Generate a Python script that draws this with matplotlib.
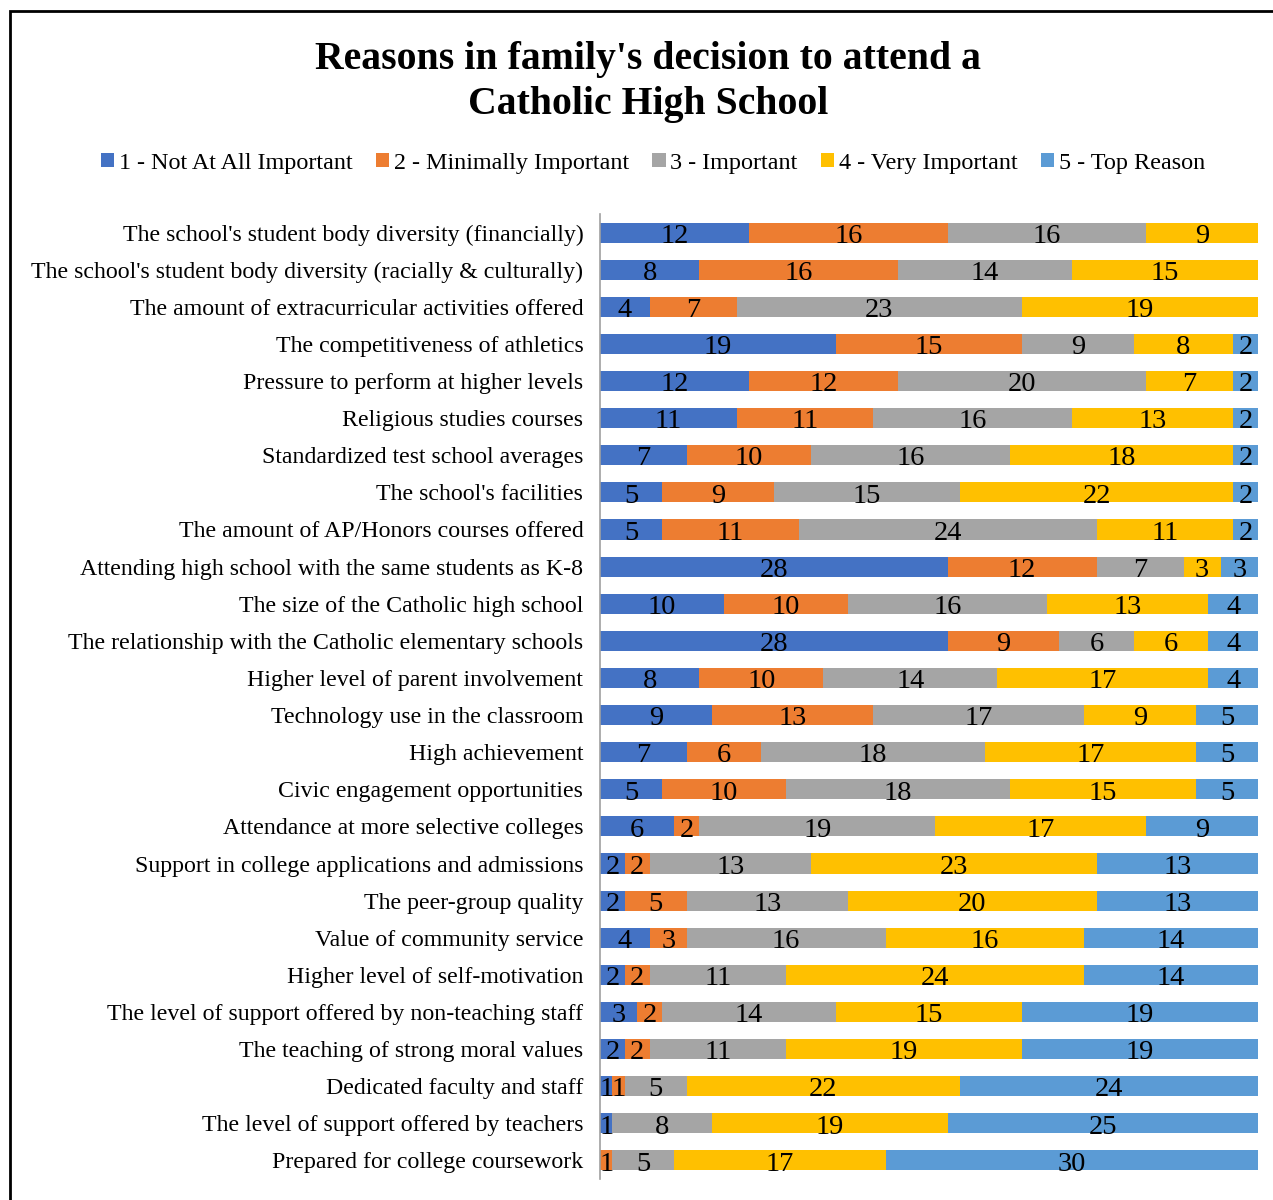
import matplotlib.pyplot as plt
from matplotlib.patches import Rectangle
import numpy as np

plt.rcParams['font.family'] = ['Liberation Serif', 'DejaVu Serif']

# categories, top to bottom
categories = [
    "The school's student body diversity (financially)",
    "The school's student body diversity (racially & culturally)",
    "The amount of extracurricular activities offered",
    "The competitiveness of athletics",
    "Pressure to perform at higher levels",
    "Religious studies courses",
    "Standardized test school averages",
    "The school's facilities",
    "The amount of AP/Honors courses offered",
    "Attending high school with the same students as K-8",
    "The size of the Catholic high school",
    "The relationship with the Catholic elementary schools",
    "Higher level of parent involvement",
    "Technology use in the classroom",
    "High achievement",
    "Civic engagement opportunities",
    "Attendance at more selective colleges",
    "Support in college applications and admissions",
    "The peer-group quality",
    "Value of community service",
    "Higher level of self-motivation",
    "The level of support offered by non-teaching staff",
    "The teaching of strong moral values",
    "Dedicated faculty and staff",
    "The level of support offered by teachers",
    "Prepared for college coursework",
]

not_important = [12, 8, 4, 19, 12, 11, 7, 5, 5, 28, 10, 28, 8, 9, 7, 5, 6, 2, 2, 4, 2, 3, 2, 1, 1, 0]
minimally = [16, 16, 7, 15, 12, 11, 10, 9, 11, 12, 10, 9, 10, 13, 6, 10, 2, 2, 5, 3, 2, 2, 2, 1, 0, 1]
important = [16, 14, 23, 9, 20, 16, 16, 15, 24, 7, 16, 6, 14, 17, 18, 18, 19, 13, 13, 16, 11, 14, 11, 5, 8, 5]
very_important = [9, 15, 19, 8, 7, 13, 18, 22, 11, 3, 13, 6, 17, 9, 17, 15, 17, 23, 20, 16, 24, 15, 19, 22, 19, 17]
top_reason = [0, 0, 0, 2, 2, 2, 2, 2, 2, 3, 4, 4, 4, 5, 5, 5, 9, 13, 13, 14, 14, 19, 19, 24, 25, 30]

series = [not_important, minimally, important, very_important, top_reason]
series_names = ['1 - Not At All Important', '2 - Minimally Important', '3 - Important',
                '4 - Very Important', '5 - Top Reason']
colors = ['#4472C4', '#ED7D31', '#A5A5A5', '#FFC000', '#5B9BD5']

W, H = 1273, 1200
fig = plt.figure(figsize=(W / 100, H / 100), dpi=100)
ax = fig.add_axes([600 / W, 1 - 1179 / H, 658 / W, (1179 - 214) / H])

y = np.arange(len(categories))
left = np.zeros(len(categories))
for vals, name, c in zip(series, series_names, colors):
    vals = np.array(vals, dtype=float)
    ax.barh(y, vals, left=left, height=0.54, color=c, label=name)
    for yi, (l, v) in enumerate(zip(left, vals)):
        if v > 0:
            ax.text(l + v / 2, yi + 0.1, f'{int(v)}', ha='center', va='center',
                    fontsize=20.5, color='black')
    left += vals

ax.set_xlim(0, 53)
ax.set_ylim(len(categories) - 0.5, -0.5)
ax.set_yticks(y)
ax.set_yticklabels(categories, fontsize=17.2)
ax.tick_params(axis='y', length=0, pad=12)
ax.set_xticks([])
for s in ['top', 'right', 'bottom']:
    ax.spines[s].set_visible(False)
ax.spines['left'].set_color('#A0A0A0')
ax.spines['left'].set_linewidth(1.2)

fig.text(648 / W, 1 - 82 / H, "Reasons in family's decision to attend a\nCatholic High School",
         ha='center', va='center', fontsize=28.6, fontweight='bold', linespacing=1.27)

fig.legend(loc='center', bbox_to_anchor=(653 / W, 1 - 163 / H), ncol=5, frameon=False,
           fontsize=17.4, handlelength=0.55, handleheight=0.55, handletextpad=0.2,
           columnspacing=0.95)

# chart border (extends past the right and bottom of the picture)
fig.patches.append(Rectangle((10 / W, -0.1), 1.2, 1 - 11 / H + 0.1, transform=fig.transFigure,
                             fill=False, edgecolor='black', linewidth=2))

fig.savefig('out.png', dpi=100)
